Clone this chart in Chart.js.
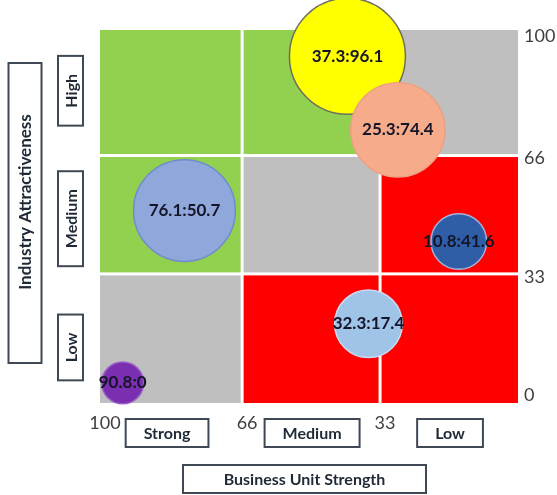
<!DOCTYPE html>
<html>
<head>
<meta charset="utf-8">
<script src="https://cdn.jsdelivr.net/npm/chart.js@4.4.1/dist/chart.umd.min.js"></script>
<style>
  html, body { margin: 0; padding: 0; background: #ffffff; }
  #wrap { width: 557px; height: 495px; position: relative; }
</style>
</head>
<body>
<div id="wrap"><canvas id="ge" width="557" height="495"></canvas></div>
<script>
// Business units: strength (x, 100 = strong) and industry attractiveness (y)
const businessStrength = [37.3, 25.3, 76.1, 10.8, 32.3, 90.8];
const attractiveness   = [96.1, 74.4, 50.7, 41.6, 17.4, 0];
// Relative market size of each unit (bubble area)
const marketSize       = [100, 66, 77, 23, 34, 13];
const bubbleFill  = ['#ffff00', '#f6ab8b', '#8fa7db', '#2f5ea7', '#a0c3e8', '#7a2eb0'];
const bubbleEdge  = ['#6f6f5c', '#eea083', '#6f8dcc', '#a3b2d8', '#c9dbf0', '#9a60c8'];

// Axis ticks and zone names
const xTickValues = [100, 66, 33];
const yTickValues = [100, 66, 33, 0];
const zoneEdges   = [100, 66, 33, 0];
const strengthNames = ['Strong', 'Medium', 'Low'];
const attractNames  = ['High', 'Medium', 'Low'];
const xTitle = 'Business Unit Strength';
const yTitle = 'Industry Attractiveness';

// Zone colours, rows from high to low attractiveness, columns from strong to low
const GREEN = '#92d050', GRAY = '#bfbfbf', RED = '#ff0000';
const zoneColors = [
  [GREEN, GREEN, GRAY],
  [GREEN, GRAY,  RED],
  [GRAY,  RED,   RED]
];

const FONT = "Lato, 'Open Sans', sans-serif";
const MAX_R = 58;

const points = businessStrength.map((x, i) => ({
  x: x,
  y: attractiveness[i],
  r: MAX_R * Math.sqrt(marketSize[i] / Math.max(...marketSize))
}));

// Nine coloured zones behind the bubbles
const zonesPlugin = {
  id: 'zones',
  beforeDatasetsDraw(chart) {
    const { ctx, chartArea: a, scales: { x, y } } = chart;
    const clampY = v => Math.min(a.bottom, Math.max(a.top, y.getPixelForValue(v)));
    const clampX = v => Math.min(a.right, Math.max(a.left, x.getPixelForValue(v)));
    ctx.save();
    for (let r = 0; r < 3; r++) {
      const top = r === 0 ? a.top : clampY(zoneEdges[r]);
      const bot = r === 2 ? a.bottom : clampY(zoneEdges[r + 1]);
      for (let c = 0; c < 3; c++) {
        const left = clampX(zoneEdges[c]);
        const right = clampX(zoneEdges[c + 1]);
        ctx.fillStyle = zoneColors[r][c];
        const g = 1.5;
        ctx.fillRect(left + (c ? g : 0), top + (r ? g : 0),
                     right - left - (c ? g : 0) - (c < 2 ? g : 0),
                     bot - top - (r ? g : 0) - (r < 2 ? g : 0));
      }
    }
    ctx.restore();
  }
};

// "x:y" captions on each bubble
const captionPlugin = {
  id: 'captions',
  afterDatasetsDraw(chart) {
    const { ctx } = chart;
    const meta = chart.getDatasetMeta(0);
    ctx.save();
    ctx.font = `bold 17px ${FONT}`;
    ctx.fillStyle = '#151528';
    ctx.textAlign = 'center';
    ctx.textBaseline = 'middle';
    meta.data.forEach((el, i) => {
      ctx.fillText(`${businessStrength[i]}:${attractiveness[i]}`, el.x, el.y);
    });
    ctx.restore();
  }
};

// Framed zone names and axis titles
function framedText(ctx, text, cx, cy, w, h, rotate, shift) {
  ctx.save();
  ctx.translate(cx, cy);
  if (rotate) ctx.rotate(-Math.PI / 2);
  ctx.fillStyle = '#ffffff';
  ctx.fillRect(-w / 2, -h / 2, w, h);
  ctx.strokeStyle = '#3f4955';
  ctx.lineWidth = 2;
  ctx.strokeRect(-w / 2, -h / 2, w, h);
  ctx.fillStyle = '#1f2a36';
  ctx.fillText(text, shift || 0, 1);
  ctx.restore();
}

const framesPlugin = {
  id: 'frames',
  afterDraw(chart) {
    const { ctx, chartArea: a, scales: { x, y } } = chart;
    ctx.save();
    ctx.font = `bold 16px ${FONT}`;
    ctx.textAlign = 'center';
    ctx.textBaseline = 'middle';
    // column names under the matrix
    strengthNames.forEach((name, c) => {
      const cx = (x.getPixelForValue(zoneEdges[c]) + x.getPixelForValue(zoneEdges[c + 1])) / 2;
      const w = ctx.measureText(name).width + 36;
      framedText(ctx, name, cx - (c === 0 ? 4 : -1), 433, w, 28, false);
    });
    // row names left of the matrix
    const rowShift = [-2, 4, 9];
    attractNames.forEach((name, r) => {
      const top = r === 0 ? a.top : y.getPixelForValue(zoneEdges[r]);
      const bot = r === 2 ? a.bottom : y.getPixelForValue(zoneEdges[r + 1]);
      const w = ctx.measureText(name).width + 36;
      framedText(ctx, name, 70.5, (top + bot) / 2 + rowShift[r], w, 25, true);
    });
    // axis titles
    framedText(ctx, xTitle, 304.5, 479, 243, 28, false);
    ctx.font = `bold 17px ${FONT}`;
    framedText(ctx, yTitle, 25, 213, 300, 33, true, 11);
    ctx.restore();
  }
};

new Chart(document.getElementById('ge'), {
  type: 'bubble',
  data: {
    datasets: [{
      data: points,
      xAxisID: 'bx',
      yAxisID: 'by',
      backgroundColor: bubbleFill,
      borderColor: bubbleEdge,
      borderWidth: 1.5,
      clip: false
    }]
  },
  options: {
    responsive: false,
    animation: false,
    events: [],
    layout: { autoPadding: false, padding: { left: 100, top: 30, right: 0, bottom: 0 } },
    plugins: { legend: { display: false }, tooltip: { enabled: false } },
    scales: {
      x: {
        type: 'linear', reverse: true, min: 0, max: 100, position: 'bottom',
        afterBuildTicks: s => { s.ticks = xTickValues.map(v => ({ value: v })); },
        afterFit: s => { s.height = 92; },
        grid: { display: false, drawTicks: false },
        border: { display: false },
        ticks: { padding: 9, labelOffset: 5, autoSkip: false, maxRotation: 0,
                 font: { family: FONT, size: 18 }, color: '#404040' }
      },
      y: {
        type: 'linear', min: -3, max: 101, position: 'right',
        afterBuildTicks: s => { s.ticks = yTickValues.map(v => ({ value: v })); },
        afterFit: s => { s.width = 39; },
        grid: { display: false, drawTicks: false },
        border: { display: false },
        ticks: { padding: 6, labelOffset: 3, autoSkip: false,
                 font: { family: FONT, size: 18 }, color: '#404040' }
      },
      // value axes of the bubble plot itself, drawn over the zone grid
      bx: { type: 'linear', display: false, reverse: true, min: -3.3, max: 96.2 },
      by: { type: 'linear', display: false, min: -5.9, max: 103.8 }
    }
  },
  plugins: [zonesPlugin, captionPlugin, framesPlugin]
});
</script>
</body>
</html>
